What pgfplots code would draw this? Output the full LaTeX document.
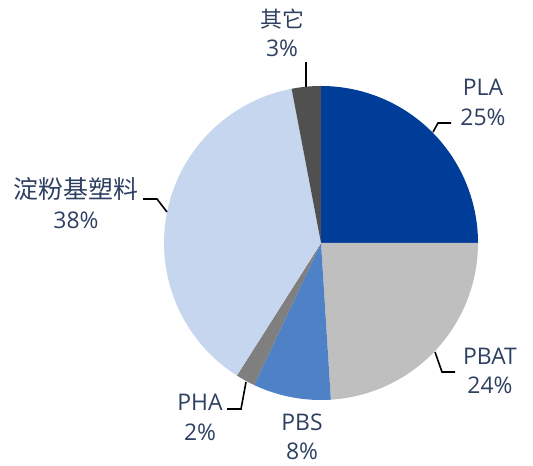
\documentclass[border=0pt]{standalone}
\usepackage{pgfplots}
\pgfplotsset{compat=1.18}
\usepackage{fontspec}
\setmainfont{Open Sans}
\newfontfamily\cjk{Noto Sans CJK SC}
\definecolor{cPLA}{RGB}{0,61,153}
\definecolor{cPBAT}{RGB}{191,191,191}
\definecolor{cPBS}{RGB}{79,129,199}
\definecolor{cPHA}{RGB}{127,127,127}
\definecolor{cST}{RGB}{198,214,238}
\definecolor{cOT}{RGB}{80,80,80}
\definecolor{txt}{RGB}{46,64,98}
% shares (%): PLA 25, PBAT 24, PBS 8, PHA 2, starch-based 38, others 3
% wedges start at 90 deg and run clockwise, 3.6 deg per percent
\begin{document}
\begin{tikzpicture}
\begin{axis}[x=1bp,y=1bp,xmin=-321,xmax=212,ymin=-223,ymax=243,
  hide axis,clip=false,scale only axis,
  every axis plot/.append style={draw=none,data cs=polar,samples=80}]
\path (axis cs:-321,-223) rectangle (axis cs:212,243);
% PLA 25%
\addplot[fill=cPLA,domain=0:90] ({x},{157}) -- (axis cs:0,0) -- cycle;
% PBAT 24%
\addplot[fill=cPBAT,domain=-86.4:0] ({x},{157}) -- (axis cs:0,0) -- cycle;
% PBS 8%
\addplot[fill=cPBS,domain=-115.2:-86.4] ({x},{157}) -- (axis cs:0,0) -- cycle;
% PHA 2%
\addplot[fill=cPHA,domain=-122.4:-115.2] ({x},{157}) -- (axis cs:0,0) -- cycle;
% starch-based 38%
\addplot[fill=cST,domain=-259.2:-122.4] ({x},{157}) -- (axis cs:0,0) -- cycle;
% others 3%
\addplot[fill=cOT,domain=-270:-259.2] ({x},{157}) -- (axis cs:0,0) -- cycle;

\tikzset{lbl/.style={text=txt,align=center,font=\fontsize{23}{29.5}\selectfont,inner sep=0pt}}
\draw[black,line width=1.6bp] (axis cs:-14.8,156) -- (axis cs:-14.8,181);
\draw[black,line width=1.6bp] (axis cs:112,111) -- (axis cs:117,120) -- (axis cs:130,120);
\draw[black,line width=1.6bp] (axis cs:114,-109) -- (axis cs:121,-129) -- (axis cs:134,-129);
\draw[black,line width=1.6bp] (axis cs:-75,-139) -- (axis cs:-80,-166) -- (axis cs:-94,-166);
\draw[black,line width=1.6bp] (axis cs:-154,31) -- (axis cs:-164,44) -- (axis cs:-178,44);

\node[lbl] at (axis cs:-39,210) {{\cjk\fontsize{22}{29.5}\selectfont 其它}\\3\%};
\node[lbl] at (axis cs:162,140.5) {PLA\\25\%};
\node[lbl] at (axis cs:169,-128) {PBAT\\24\%};
\node[lbl] at (axis cs:-19,-194) {PBS\\8\%};
\node[lbl] at (axis cs:-121,-174.5) {PHA\\2\%};
\node[lbl] at (axis cs:-245,40) {{\cjk\fontsize{25}{29.5}\selectfont 淀粉基塑料}\\38\%};
\end{axis}
\end{tikzpicture}
\end{document}
